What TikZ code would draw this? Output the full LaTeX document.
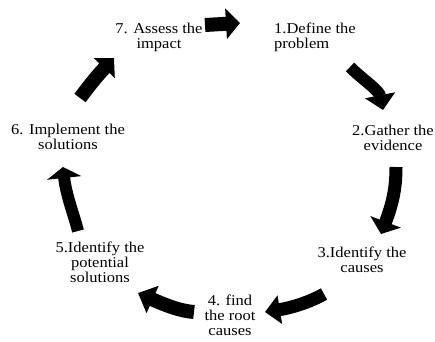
\documentclass[tikz,border=0pt]{standalone}
\usepackage{fontspec}
\setmainfont{Liberation Serif}[FakeStretch=1.1]
\usetikzlibrary{arrows.meta}
\begin{document}
\begin{tikzpicture}[x=1pt,y=-1pt,
  lbl/.style={inner sep=0pt, align=center, anchor=north, font=\fontsize{15}{15}\selectfont},
  blk/.style n args={3}{line width=#1pt, line cap=butt, -{Triangle[width=#2pt,length=#3pt]}},
]
\useasboundingbox (0,0) rectangle (435,341);
% labels (north = first baseline - 10.5)
\node[lbl] (t7) at (159,22.5) {\strut 7. Assess the\\impact};
\node[lbl, anchor=north west, align=left] (t1) at (274,22.5) {\strut 1.Define the\\problem};
\node[lbl] (t2) at (393,124.5) {\strut 2.Gather the\\evidence};
\node[lbl] (t3) at (362,246.5) {\strut 3.Identify the\\causes};
\node[lbl] (t4) at (230,294.5) {\strut 4. find\\the root\\causes};
\node[lbl] (t5) at (100,241.5) {\strut 5.Identify the\\potential\\solutions};
\node[lbl] (t6) at (68,123.5) {\strut 6. Implement the\\solutions};
% arrow end points
\coordinate (a7s) at (205,25);  \coordinate (a7e) at (240,23);
\coordinate (a1s) at (350,67);  \coordinate (a1e) at (383,110);
\coordinate (a2s) at (396,167); \coordinate (a2e) at (381,234);
\coordinate (a3s) at (324,294); \coordinate (a3e) at (265,312);
\coordinate (a4s) at (194,312); \coordinate (a4e) at (138,293);
\coordinate (a5s) at (78,231);  \coordinate (a5e) at (63,167);
\coordinate (a6s) at (80,98);   \coordinate (a6e) at (114,58);
% block arrows
\draw[blk={14}{30}{14}] (a7s) -- (a7e);
\draw[blk={12}{30}{15}] (a1s) .. controls (362,79) and (379,90) .. (a1e);
\draw[blk={13}{32}{13}] (a2s) .. controls (396,190) and (392,205) .. (a2e);
\draw[blk={13}{28}{15}] (a3s) .. controls (308,303) and (290,308) .. (a3e);
\draw[blk={14}{29}{16}] (a4s) .. controls (180,311) and (165,305) .. (a4e);
\draw[blk={12}{34}{11}] (a5s) .. controls (74,215) and (66,195) .. (a5e);
\draw[blk={14}{28}{14}] (a6s) .. controls (86,90) and (95,78) .. (a6e);
\end{tikzpicture}
\end{document}
